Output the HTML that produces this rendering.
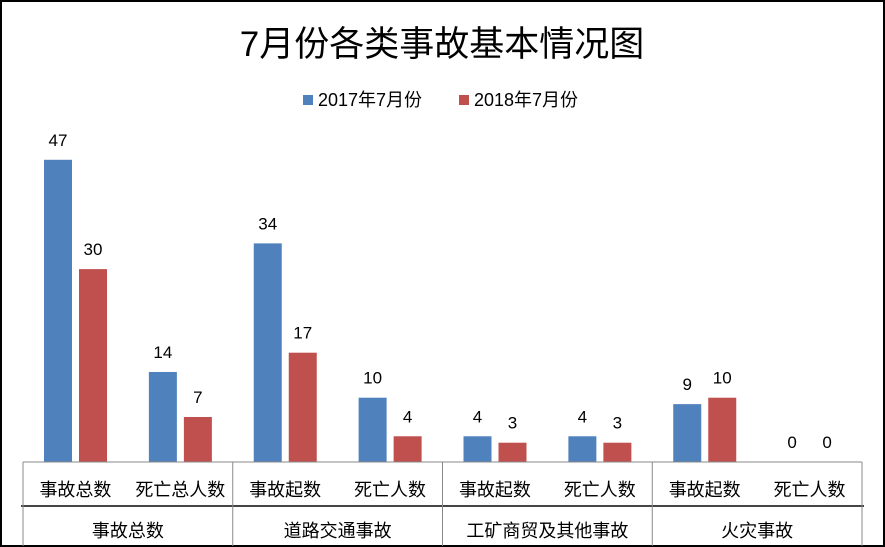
<!DOCTYPE html>
<html><head><meta charset="utf-8"><style>
html,body{margin:0;padding:0;background:#fff}
svg{display:block;font-family:"Liberation Sans","Noto Sans CJK SC",sans-serif}
</style></head><body>
<svg id="chart" width="885" height="547" viewBox="0 0 885 547">
<rect x="1" y="1" width="883" height="545" fill="#fff" stroke="#000" stroke-width="2"/>
<text x="442" y="56" font-size="35" text-anchor="middle" fill="#000">7月份各类事故基本情况图</text>
<g>
<rect x="303" y="95" width="10" height="10" fill="#4f81bd"/>
<text x="318" y="106" font-size="18">2017年7月份</text>
<rect x="459" y="95" width="10" height="10" fill="#c0504d"/>
<text x="474" y="106" font-size="18">2018年7月份</text>
</g>
<g id="bars"></g>
<g id="axis"></g>
</svg>
<script>
const subCategories=["事故总数","死亡总人数","事故起数","死亡人数","事故起数","死亡人数","事故起数","死亡人数"];
const groupCategories=["事故总数","道路交通事故","工矿商贸及其他事故","火灾事故"];
const series2017=[47,14,34,10,4,4,9,0];
const series2018=[30,7,17,4,3,3,10,0];
const NS="http://www.w3.org/2000/svg";
const x0=23,x1=862,base=462,pxPerUnit=6.43;
const gw=(x1-x0)/subCategories.length;
const yScale=v=>base-v*pxPerUnit;
const xScale=i=>x0+i*gw;
function mk(tag,attrs,parent){const e=document.createElementNS(NS,tag);for(const k in attrs)e.setAttribute(k,attrs[k]);parent.appendChild(e);return e;}
const bars=document.getElementById('bars'),axis=document.getElementById('axis');
subCategories.forEach((c,i)=>{
  const gx=xScale(i);
  [[series2017,'#4f81bd',21,'2017'],[series2018,'#c0504d',56,'2018']].forEach(([s,col,off,yr])=>{
    const v=s[i],y=yScale(v);
    const r=mk('rect',{x:gx+off,y:y,width:28,height:base-y,fill:col},bars);
    
    
    const t=mk('text',{x:gx+off+14,y:y-14,'font-size':17,'text-anchor':'middle'},bars);
    t.textContent=v;
    
    
  });
  const l=mk('text',{x:gx+gw/2,y:496,'font-size':18,'text-anchor':'middle'},axis);
  l.textContent=c;
  
  
});
groupCategories.forEach((g,j)=>{
  const t=mk('text',{x:xScale(j*2)+gw,y:537,'font-size':18,'text-anchor':'middle'},axis);
  t.textContent=g;
  
  
});
const al=mk('line',{x1:x0,y1:base,x2:x1,y2:base,stroke:'#888','stroke-width':1},axis);


const sep=mk('line',{x1:21,y1:506,x2:864,y2:506,stroke:'#444','stroke-width':2},axis);


for(let j=0;j<=groupCategories.length;j++){
  const x=xScale(j*2);
  const d=mk('line',{x1:x,y1:base,x2:x,y2:546,stroke:'#888','stroke-width':1},axis);
  
  
}
</script>
</body></html>
